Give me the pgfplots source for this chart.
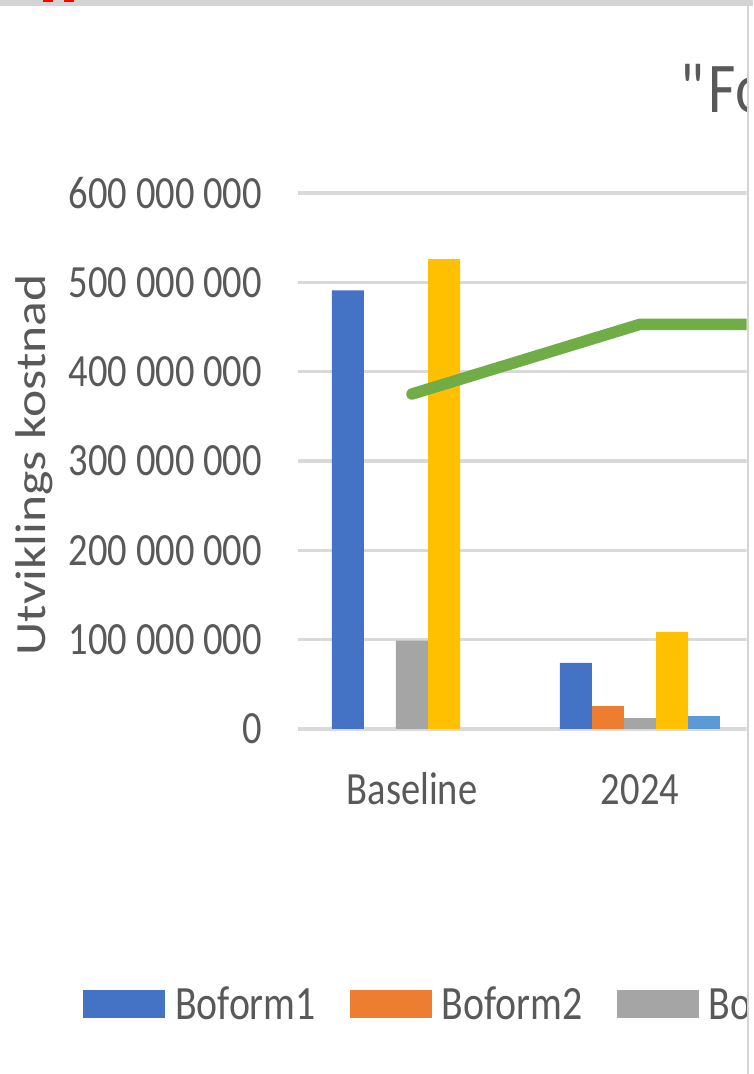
\documentclass[border=0pt]{standalone}
\usepackage{fontspec}
\setmainfont{Carlito}[FakeStretch=0.833]
\newfontfamily\ylabfont{Carlito}[FakeStretch=1.2]
\usepackage{pgfplots}
\pgfplotsset{compat=1.18}

\definecolor{c1}{HTML}{4472C4}
\definecolor{c2}{HTML}{ED7D31}
\definecolor{c3}{HTML}{A5A5A5}
\definecolor{c4}{HTML}{FFC000}
\definecolor{c5}{HTML}{5B9BD5}
\definecolor{c6}{HTML}{70AD47}
\definecolor{txt}{HTML}{595959}
\definecolor{grd}{HTML}{D9D9D9}
\definecolor{frame}{HTML}{D4D4D4}

\pgfplotsset{
  boxlegend/.style={legend image code/.code={\fill[##1] (0pt,-14pt) rectangle (82pt,14pt);}},
  bar/.style={ybar, bar width=0.1404, bar shift=#1, draw=none, boxlegend},
}

\begin{document}
\begin{tikzpicture}[x=1pt,y=1pt]
\useasboundingbox (0,0) rectangle (753,1074);
\fill[white] (0,0) rectangle (753,1074);
\begin{scope}
\clip (0,0) rectangle (746.5,1068);
\begin{axis}[
  at={(298pt,345pt)}, anchor=south west,
  scale only axis, width=684pt, height=536pt,
  xmin=-0.5, xmax=2.5, ymin=0, ymax=600000000,
  axis line style={draw=none},
  major tick length=0pt,
  ymajorgrids, grid style={grd, line width=3.5pt},
  ytick={0,100000000,200000000,300000000,400000000,500000000,600000000},
  scaled y ticks=false,
  yticklabel style={/pgf/number format/.cd, fixed, precision=0, 1000 sep={\ }, assume math mode=true,
    /tikz/.cd, text=txt, font=\fontsize{46.2}{55}\selectfont, anchor=east, inner sep=0pt, xshift=-36pt},
  xtick={0,1}, xticklabels={Baseline,2024},
  xticklabel style={text=txt, font=\fontsize{46.2}{55}\selectfont, anchor=base, inner sep=0pt, yshift=-76pt},
  ylabel={Utviklings kostnad},
  every axis y label/.style={at={(axis description cs:-0.386,0.4925)}, rotate=90, anchor=center,
    inner sep=0pt, text=txt, font=\ylabfont\fontsize{43}{50}\selectfont},
  title={\textquotedbl{}Fo},
  every axis title/.style={at={(axis description cs:0.5585,1.1511)}, anchor=base west,
    inner sep=0pt, text=txt, font=\fontsize{71.4}{80}\selectfont},
  legend columns=-1,
  legend cell align=left,
  legend style={at={(axis description cs:-0.3143,-0.5131)}, anchor=west, draw=none, fill=none,
    inner sep=0pt, outer sep=0pt, text=txt, font=\fontsize{47.8}{56}\selectfont,
    nodes={inner sep=0pt},
    /tikz/every odd column/.append style={column sep=10pt},
    /tikz/every even column/.append style={column sep=34pt}},
]
% Boform1 .. Boform5: Baseline (x=0), 2024 (x=1)
\addplot[bar=-0.2808, fill=c1] coordinates {(0,491000000) (1,74000000)};
\addplot[bar=-0.1404, fill=c2] coordinates {(1,25700000)};
\addplot[bar=0, fill=c3] coordinates {(0,99000000) (1,12300000)};
\addplot[bar=0.1404, fill=c4] coordinates {(0,526000000) (1,108600000)};
\addplot[bar=0.2808, fill=c5] coordinates {(1,14600000)};
% line series
\addplot[c6, line width=11.5pt, line cap=round, line join=round] coordinates {(0,375000000) (1,453000000) (2,453000000)};
\legend{Boform1,Boform2,Boform3,Boform4,Boform5,Boform6}
\end{axis}
\end{scope}
% screenshot edges
\fill[frame] (0,1068) rectangle (753,1074);
\fill[red] (43,1072) rectangle (53,1074);
\fill[red] (64,1072) rectangle (74,1074);
\fill[frame] (746.5,0) rectangle (749,1068);
\end{tikzpicture}
\end{document}
